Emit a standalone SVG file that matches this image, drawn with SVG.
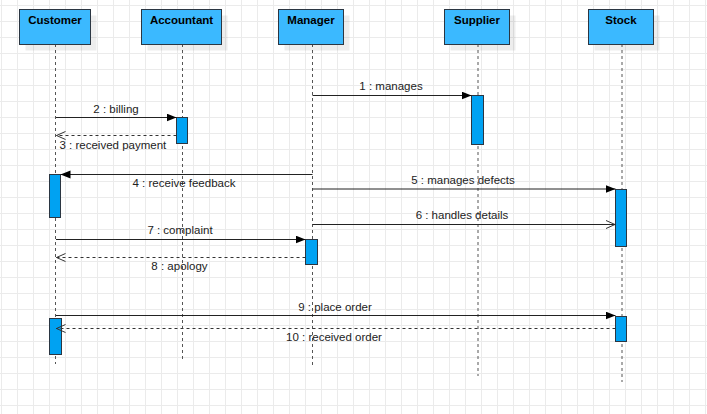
<svg xmlns="http://www.w3.org/2000/svg" width="707" height="414" viewBox="0 0 707 414">
  <defs>
    <pattern id="grid" x="1" y="5" width="16" height="16" patternUnits="userSpaceOnUse">
      <path d="M0.5 0V16M0 0.5H16" fill="none" stroke="#ebebeb" stroke-width="1"/>
    </pattern>
    <marker id="filled" markerUnits="userSpaceOnUse" markerWidth="11" markerHeight="9" refX="10" refY="4" orient="auto">
      <path d="M0,0 L10,4 L0,8 z" fill="#000"/>
    </marker>
    <marker id="open" markerUnits="userSpaceOnUse" markerWidth="11" markerHeight="10" refX="9.5" refY="4.5" orient="auto">
      <path d="M0,0.5 L9,4.5 L0,8.5" fill="none" stroke="#333" stroke-width="1"/>
    </marker>
  </defs>
  <style>
    .head { fill: #3bb9ff; stroke: #2b3642; stroke-width: 1; }
    .shadow { fill: #000; opacity: 0.07; }
    .title { font-family: "Liberation Sans", Arial, sans-serif; font-size: 11.5px; font-weight: bold; fill: #000; text-anchor: middle; }
    .life { stroke: #555; stroke-width: 1; stroke-dasharray: 3 3; fill: none; }
    .act { fill: #00a2f2; stroke: #2b3642; stroke-width: 1; }
    .msg { stroke: #222; stroke-width: 1; fill: none; }
    .ret { stroke: #333; stroke-width: 1; stroke-dasharray: 3 3; fill: none; }
    .lbl { font-family: "Liberation Sans", Arial, sans-serif; font-size: 11.5px; fill: #222; text-anchor: middle; }
  </style>
  <rect width="707" height="414" fill="#fff"/>
  <rect width="707" height="414" fill="url(#grid)"/>

  <g id="lifelines">
    <path class="life" d="M55.5 44V364"/>
    <path class="life" d="M182.5 44V361"/>
    <path class="life" d="M312.5 44V366"/>
    <path class="life" d="M478 44V376"/>
    <path class="life" d="M622 44V382"/>
  </g>

  <g id="customer">
    <rect class="shadow" x="25.5" y="15.5" width="71" height="35"/>
    <rect class="head" x="19.5" y="9.5" width="71" height="35"/>
    <text class="title" x="55" y="24">Customer</text>
  </g>
  <g id="accountant">
    <rect class="shadow" x="147.5" y="15.5" width="80" height="35"/>
    <rect class="head" x="141.5" y="9.5" width="80" height="35"/>
    <text class="title" x="181.5" y="24">Accountant</text>
  </g>
  <g id="manager">
    <rect class="shadow" x="284.5" y="15.5" width="65" height="35"/>
    <rect class="head" x="278.5" y="9.5" width="65" height="35"/>
    <text class="title" x="311" y="24">Manager</text>
  </g>
  <g id="supplier">
    <rect class="shadow" x="450.5" y="15.5" width="65" height="35"/>
    <rect class="head" x="444.5" y="9.5" width="65" height="35"/>
    <text class="title" x="477" y="24">Supplier</text>
  </g>
  <g id="stock">
    <rect class="shadow" x="594.5" y="15.5" width="65" height="35"/>
    <rect class="head" x="588.5" y="9.5" width="65" height="35"/>
    <text class="title" x="621" y="24">Stock</text>
  </g>

  <g id="activations">
    <rect class="act" x="471.5" y="95.5" width="12" height="49"/>
    <rect class="act" x="176.5" y="117.5" width="11" height="26"/>
    <rect class="act" x="49.5" y="174.5" width="11" height="43"/>
    <rect class="act" x="305.5" y="239.5" width="12" height="25"/>
    <rect class="act" x="615.5" y="189.5" width="11" height="57"/>
    <rect class="act" x="49.5" y="318.5" width="12" height="36"/>
    <rect class="act" x="615.5" y="316.5" width="11" height="25"/>
  </g>

  <g id="connectors">
    <path class="msg" d="M312.5 95.5H471.5" marker-end="url(#filled)"/>
    <text class="lbl" x="391" y="90">1 : manages</text>

    <path class="msg" d="M56 117.5H176.5" marker-end="url(#filled)"/>
    <text class="lbl" x="116" y="112.5">2 : billing</text>

    <path class="ret" d="M176.5 135.5H56" marker-end="url(#open)"/>
    <text class="lbl" x="59.5" y="148.5" style="text-anchor:start">3 : received payment</text>

    <path class="msg" d="M312.5 174.5H60.5" marker-end="url(#filled)"/>
    <text class="lbl" x="184" y="187">4 : receive feedback</text>

    <path class="msg" d="M312.5 189H615.5" marker-end="url(#filled)"/>
    <text class="lbl" x="463" y="184">5 : manages defects</text>

    <path class="msg" d="M312.5 224.5H615.5" marker-end="url(#open)"/>
    <text class="lbl" x="462" y="219">6 : handles details</text>

    <path class="msg" d="M56 239.5H305.5" marker-end="url(#filled)"/>
    <text class="lbl" x="180" y="233.5">7 : complaint</text>

    <path class="ret" d="M305.5 257.5H56" marker-end="url(#open)"/>
    <text class="lbl" x="179.5" y="270">8 : apology</text>

    <path class="msg" d="M56 315.5H615.5" marker-end="url(#filled)"/>
    <text class="lbl" x="335" y="310.5">9 : place order</text>

    <path class="ret" d="M615.5 328.5H56" marker-end="url(#open)"/>
    <text class="lbl" x="334" y="341">10 : received order</text>
  </g>
</svg>
